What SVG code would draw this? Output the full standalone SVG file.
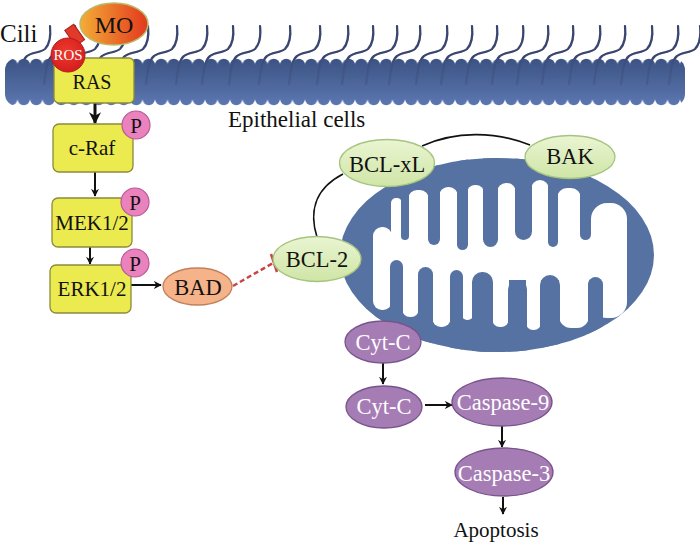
<svg xmlns="http://www.w3.org/2000/svg" width="700" height="542" viewBox="0 0 700 542">
<style>
.t{font-family:"Liberation Serif","Times New Roman",serif;text-anchor:middle;fill:#111}
.box{fill:#ebea4e;stroke:#8c8a3c;stroke-width:1.3}
.p{fill:#ea82bd;stroke:#b85a95;stroke-width:1.2}
.g{fill:url(#grn);stroke:#a6c47f;stroke-width:1.3}
.pu{fill:#a67cb5;stroke:#78548c;stroke-width:1.3}
.ar{stroke:#111;stroke-width:2;fill:none;marker-end:url(#ah)}
.cil{fill:none;stroke:#3a4570;stroke-width:2.2;stroke-linecap:round}
.b{fill:#5672a2}
.wh{fill:#fff}
</style>
<defs>
<marker id="ah" viewBox="0 0 10 10" refX="9" refY="5" markerWidth="4" markerHeight="4" orient="auto">
<path d="M0,0 L10,5 L0,10 L3,5 z" fill="#111"/>
</marker>
<linearGradient id="memG" gradientUnits="userSpaceOnUse" x1="0" y1="0" x2="0" y2="48">
<stop offset="0" stop-color="#3b5283"/><stop offset="1" stop-color="#5c78b1"/>
</linearGradient>
<pattern id="memPat" patternUnits="userSpaceOnUse" x="5" y="58" width="12.5" height="48">
<rect x="0" y="6.5" width="12.5" height="35" fill="url(#memG)"/>
<circle cx="6.25" cy="7" r="6.2" fill="url(#memG)"/>
<circle cx="6.25" cy="41" r="6.2" fill="url(#memG)"/>
</pattern>
<linearGradient id="moG" x1="0" y1="0" x2="1" y2="0">
<stop offset="0" stop-color="#f3ad36"/><stop offset="1" stop-color="#e3381d"/>
</linearGradient>
<radialGradient id="rosG" cx="0.45" cy="0.4" r="0.6">
<stop offset="0" stop-color="#ef3a2e"/><stop offset="1" stop-color="#d41e1e"/>
</radialGradient>
<linearGradient id="grn" x1="0" y1="0" x2="0" y2="1">
<stop offset="0" stop-color="#eaf5d2"/><stop offset="1" stop-color="#cfe5a6"/>
</linearGradient>
<clipPath id="mito"><ellipse cx="497" cy="255" rx="157" ry="97"/></clipPath>
<path id="cl" d="M0,26 C1,36 0,44 -5,49 C-10,53 -18,52 -23,56 C-27,59 -28,64 -29,70 L-31,84"/>
</defs>

<g id="cilia">
<use href="#cl" class="cil" x="50"/><use href="#cl" class="cil" x="75"/><use href="#cl" class="cil" x="100"/><use href="#cl" class="cil" x="125"/>
<use href="#cl" class="cil" x="148"/><use href="#cl" class="cil" x="177"/><use href="#cl" class="cil" x="207"/><use href="#cl" class="cil" x="233"/>
<use href="#cl" class="cil" x="260"/><use href="#cl" class="cil" x="290"/><use href="#cl" class="cil" x="320"/><use href="#cl" class="cil" x="348"/>
<use href="#cl" class="cil" x="373"/><use href="#cl" class="cil" x="397"/><use href="#cl" class="cil" x="420"/><use href="#cl" class="cil" x="447"/>
<use href="#cl" class="cil" x="472"/><use href="#cl" class="cil" x="497"/><use href="#cl" class="cil" x="523"/><use href="#cl" class="cil" x="548"/>
<use href="#cl" class="cil" x="573"/><use href="#cl" class="cil" x="600"/><use href="#cl" class="cil" x="625"/><use href="#cl" class="cil" x="652"/>
<use href="#cl" class="cil" x="678"/><use href="#cl" class="cil" x="700"/>
</g>
<g id="membrane">
<rect x="5" y="58" width="680" height="48" rx="12" fill="url(#memPat)"/>
</g>
<g id="cilia-inner" opacity="0.3">
<use href="#cl" class="cil" x="75"/><use href="#cl" class="cil" x="148"/><use href="#cl" class="cil" x="177"/><use href="#cl" class="cil" x="207"/><use href="#cl" class="cil" x="233"/>
<use href="#cl" class="cil" x="260"/><use href="#cl" class="cil" x="290"/><use href="#cl" class="cil" x="320"/><use href="#cl" class="cil" x="348"/>
<use href="#cl" class="cil" x="373"/><use href="#cl" class="cil" x="397"/><use href="#cl" class="cil" x="420"/><use href="#cl" class="cil" x="447"/>
<use href="#cl" class="cil" x="472"/><use href="#cl" class="cil" x="497"/><use href="#cl" class="cil" x="523"/><use href="#cl" class="cil" x="548"/>
<use href="#cl" class="cil" x="573"/><use href="#cl" class="cil" x="600"/><use href="#cl" class="cil" x="625"/><use href="#cl" class="cil" x="652"/>
<use href="#cl" class="cil" x="678"/><use href="#cl" class="cil" x="700"/>
</g>
<text class="t" x="0" y="42" font-size="25" style="text-anchor:start">Cili</text>
<text class="t" x="228" y="127" font-size="23" style="text-anchor:start">Epithelial cells</text>

<g id="mitochondrion">
<ellipse cx="497" cy="255" rx="157" ry="97" class="b"/>
<g clip-path="url(#mito)">
<rect class="wh" x="380" y="235" width="240" height="45"/>
<rect class="wh" x="373" y="227" width="19" height="83" rx="9"/>
<rect class="wh" x="591" y="203" width="36" height="115" rx="16"/>
<rect class="wh" x="391" y="198" width="11" height="70" rx="5"/>
<rect class="wh" x="408" y="190" width="21" height="75" rx="9"/>
<rect class="wh" x="439" y="187" width="19" height="75" rx="9"/>
<rect class="wh" x="467" y="185" width="17" height="75" rx="8"/>
<rect class="wh" x="497" y="183" width="19" height="75" rx="9"/>
<rect class="wh" x="531" y="180" width="18" height="80" rx="9"/>
<rect class="wh" x="557" y="188" width="24" height="75" rx="10"/>
<rect class="wh" x="402" y="250" width="17" height="67" rx="8"/>
<rect class="wh" x="432" y="250" width="19" height="77" rx="9"/>
<rect class="wh" x="462" y="250" width="11" height="70" rx="5"/>
<rect class="wh" x="492" y="250" width="17" height="77" rx="8"/>
<rect class="wh" x="526" y="250" width="15" height="80" rx="7"/>
<rect class="wh" x="559" y="250" width="30" height="78" rx="12"/>
<rect class="b" x="401" y="150" width="8" height="90" rx="4"/>
<rect class="b" x="428" y="150" width="12" height="95" rx="6"/>
<rect class="b" x="457" y="150" width="11" height="100" rx="5.5"/>
<rect class="b" x="483" y="150" width="15" height="97" rx="7.5"/>
<rect class="b" x="515" y="150" width="17" height="90" rx="8.5"/>
<rect class="b" x="548" y="150" width="10" height="97" rx="5"/>
<rect class="b" x="580" y="150" width="11" height="90" rx="5.5"/>
<rect class="b" x="390" y="260" width="13" height="100" rx="6.5"/>
<rect class="b" x="418" y="267" width="15" height="100" rx="7.5"/>
<rect class="b" x="450" y="270" width="13" height="100" rx="6.5"/>
<rect class="b" x="472" y="272" width="21" height="100" rx="10"/>
<rect class="b" x="508" y="280" width="19" height="100" rx="9.5"/>
<rect class="b" x="540" y="275" width="20" height="100" rx="10"/>
<rect class="b" x="588" y="277" width="15" height="100" rx="7.5"/>
</g>
</g>

<g id="connectors">
<line class="ar" x1="95" y1="103" x2="95" y2="123" style="stroke-width:3"/>
<line class="ar" x1="95" y1="172" x2="95" y2="196"/>
<line class="ar" x1="90" y1="247" x2="90" y2="264"/>
<line class="ar" x1="131" y1="285" x2="161" y2="285"/>
<line x1="233" y1="286" x2="273" y2="263" stroke="#c84444" stroke-width="2.5" stroke-dasharray="5,3"/>
<line x1="271" y1="254" x2="277" y2="272" stroke="#c84444" stroke-width="2.5"/>
<path d="M317,237 C310,215 312,190 343,174" fill="none" stroke="#111" stroke-width="1.6"/>
<path d="M422,146 C455,131 495,131 530,145" fill="none" stroke="#111" stroke-width="1.6"/>
<line class="ar" x1="383" y1="363" x2="383" y2="384"/>
<line class="ar" x1="425" y1="405" x2="452" y2="405"/>
<line class="ar" x1="502" y1="426" x2="502" y2="447"/>
<line class="ar" x1="503" y1="497" x2="503" y2="514"/>
</g>

<g id="MO">
<rect x="69" y="26" width="11" height="19" transform="rotate(-35 74 35)" fill="#e23a2a" stroke="#a82020" stroke-width="1"/>
<ellipse cx="114" cy="24" rx="34" ry="21" fill="url(#moG)" stroke="#b9ba6c" stroke-width="1.5"/>
<text class="t" x="114" y="33" font-size="24">MO</text>
</g>
<g id="RAS">
<rect class="box" x="54" y="58" width="80" height="45" rx="5"/>
<text class="t" x="92" y="89" font-size="20">RAS</text>
</g>
<g id="ROS">
<circle cx="68" cy="55" r="17" fill="url(#rosG)" stroke="#b51a1a" stroke-width="1"/>
<text class="t" x="68" y="60" font-size="15" style="fill:#fff">ROS</text>
</g>
<g id="cRaf">
<rect class="box" x="53" y="124" width="80" height="48" rx="6"/>
<text class="t" x="92" y="155" font-size="21">c-Raf</text>
<circle class="p" cx="136" cy="125" r="14"/>
<text class="t" x="136" y="133" font-size="21">P</text>
</g>
<g id="MEK">
<rect class="box" x="52" y="198" width="80" height="49" rx="6"/>
<text class="t" x="92" y="230" font-size="21">MEK1/2</text>
<circle class="p" cx="135" cy="202" r="14"/>
<text class="t" x="135" y="210" font-size="21">P</text>
</g>
<g id="ERK">
<rect class="box" x="50" y="265" width="81" height="48" rx="6"/>
<text class="t" x="92" y="296" font-size="21">ERK1/2</text>
<circle class="p" cx="135" cy="263" r="14"/>
<text class="t" x="135" y="271" font-size="21">P</text>
</g>
<g id="BAD">
<ellipse cx="197.5" cy="286.5" rx="34.5" ry="18.5" fill="#f6b38a" stroke="#c0805c" stroke-width="1.3"/>
<text class="t" x="198" y="295" font-size="22.5">BAD</text>
</g>
<g id="BCL2">
<ellipse class="g" cx="317" cy="259" rx="44" ry="22.5"/>
<text class="t" x="317" y="267" font-size="22.5">BCL-2</text>
</g>
<g id="BCLxL">
<ellipse class="g" cx="387" cy="163" rx="47.5" ry="23.5"/>
<text class="t" x="387" y="172" font-size="22.5">BCL-xL</text>
</g>
<g id="BAK">
<ellipse class="g" cx="570" cy="157" rx="45" ry="21.5"/>
<text class="t" x="570" y="164" font-size="22.5">BAK</text>
</g>
<g id="CytC1">
<ellipse class="pu" cx="383" cy="342" rx="38" ry="21"/>
<text class="t" x="383" y="350" font-size="22.5" style="fill:#fff">Cyt-C</text>
</g>
<g id="CytC2">
<ellipse class="pu" cx="384" cy="407" rx="38" ry="21"/>
<text class="t" x="384" y="414" font-size="22.5" style="fill:#fff">Cyt-C</text>
</g>
<g id="Casp9">
<ellipse class="pu" cx="502" cy="402" rx="50" ry="24"/>
<text class="t" x="503" y="410" font-size="22.5" style="fill:#fff">Caspase-9</text>
</g>
<g id="Casp3">
<ellipse class="pu" cx="504" cy="472" rx="49" ry="24"/>
<text class="t" x="504" y="481" font-size="22.5" style="fill:#fff">Caspase-3</text>
</g>
<text class="t" x="496" y="537" font-size="21">Apoptosis</text>
</svg>
